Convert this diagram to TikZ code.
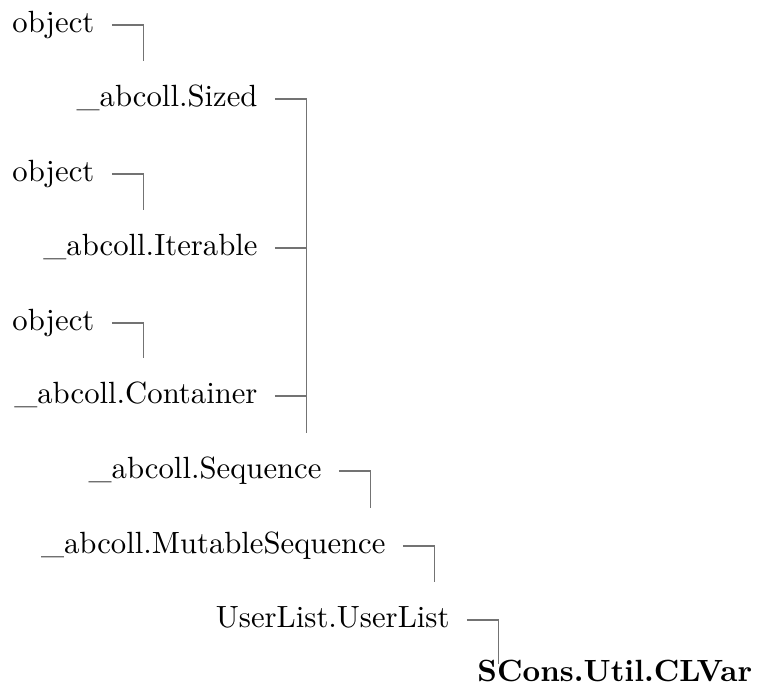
\documentclass[tikz,border=0pt]{standalone}
\newcommand\arm{10.3pt}
\tikzset{
  cls/.style={inner xsep=5.5pt, inner ysep=7.9pt, text height=6.94pt, text depth=1.94pt},
  leaf/.style={inner xsep=5.5pt, inner ysep=0pt, text height=5.6pt, text depth=0pt, font=\bfseries},
  edge/.style={draw=black!55, line width=0.45pt},
}
\begin{document}
\begin{tikzpicture}[x=0.3258pt,y=-0.3258pt]
\useasboundingbox (0,0) rectangle (762,687);
\node[cls,anchor=west] (o1) at (-5,25) {object};
\node[cls,anchor=east] (sized) at (275,99) {\_abcoll.Sized};
\node[cls,anchor=west] (o2) at (-5,174) {object};
\node[cls,anchor=east] (iter) at (275,248) {\_abcoll.Iterable};
\node[cls,anchor=west] (o3) at (-5,323) {object};
\node[cls,anchor=east] (cont) at (275,396) {\_abcoll.Container};
\node[cls,anchor=east] (seq) at (339,471) {\_abcoll.Sequence};
\node[cls,anchor=east] (mseq) at (403,546) {\_abcoll.MutableSequence};
\node[cls,anchor=east] (ul) at (467,620) {UserList.UserList};
\node[leaf,anchor=base west] (clv) at (460,682) {SCons.Util.CLVar};
\draw[edge] (o1.east) -| ([xshift=\arm]o1.east |- sized.north);
\draw[edge] (o2.east) -| ([xshift=\arm]o2.east |- iter.north);
\draw[edge] (o3.east) -| ([xshift=\arm]o3.east |- cont.north);
\draw[edge] (sized.east) -| ([xshift=\arm]sized.east |- seq.north);
\draw[edge] (iter.east) -| ([xshift=\arm]iter.east |- seq.north);
\draw[edge] (cont.east) -| ([xshift=\arm]cont.east |- seq.north);
\draw[edge] (seq.east) -| ([xshift=\arm]seq.east |- mseq.north);
\draw[edge] (mseq.east) -| ([xshift=\arm]mseq.east |- ul.north);
\draw[edge] (ul.east) -| ([xshift=\arm]ul.east |- clv.north);
\end{tikzpicture}
\end{document}
